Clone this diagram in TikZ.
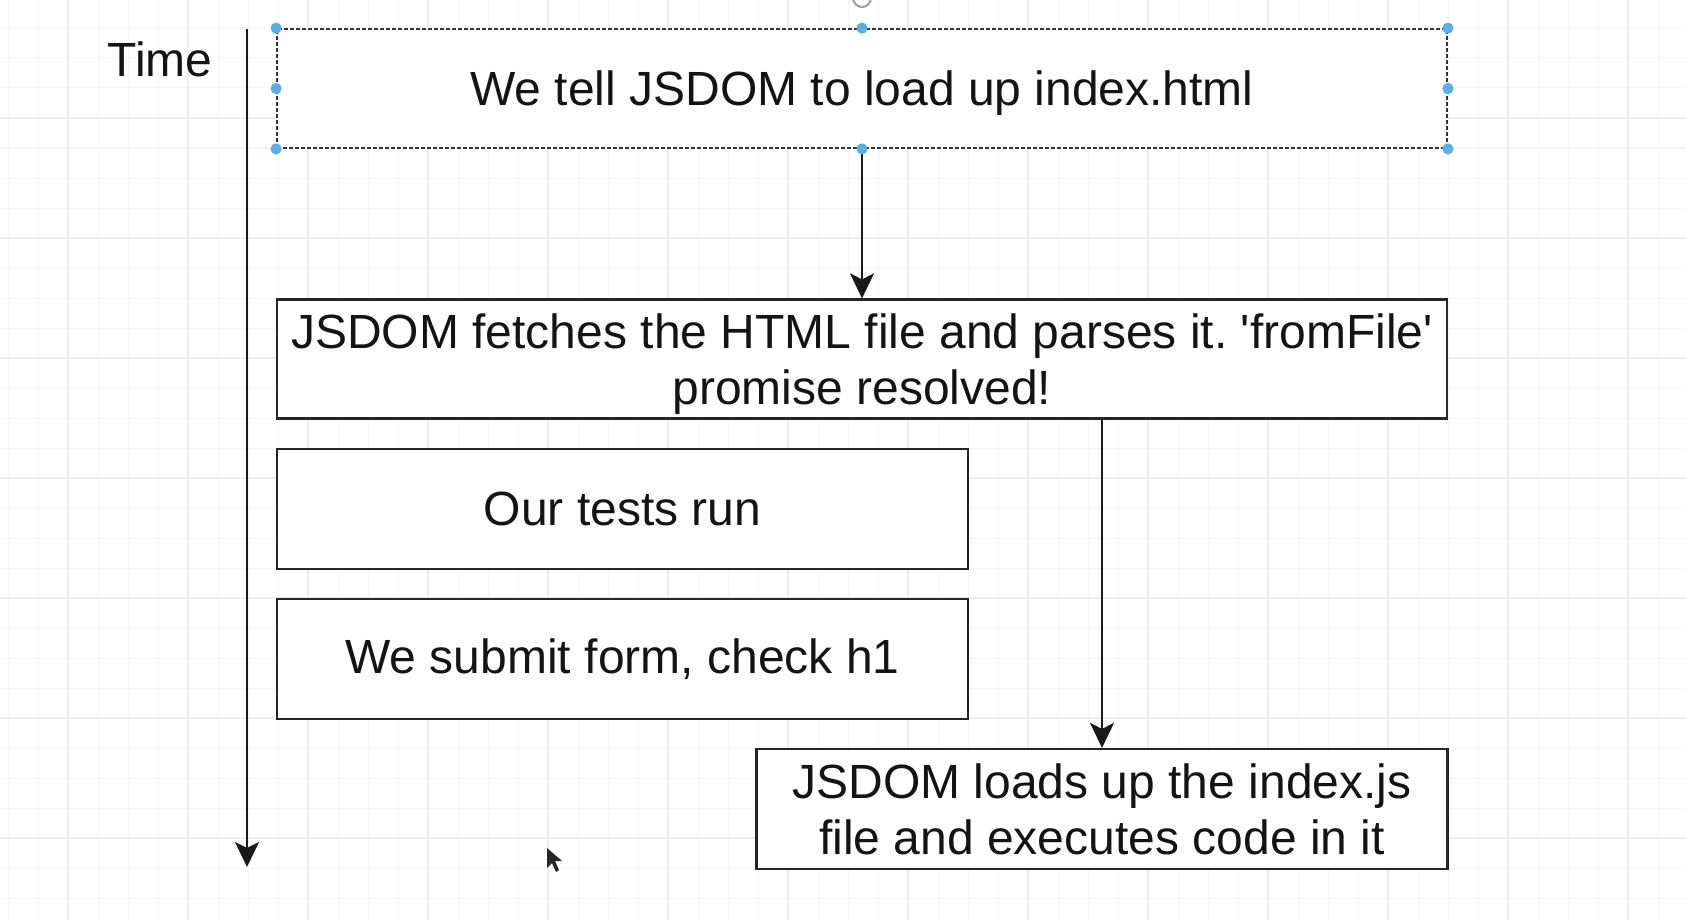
\documentclass[tikz,border=0pt]{standalone}
\usepackage{fontspec}
\setmainfont{Liberation Sans}
\usepackage{tikz}
\usetikzlibrary{positioning,arrows.meta,calc}

\definecolor{handleblue}{HTML}{5AAEE6}
\frenchspacing

\begin{document}
\begin{tikzpicture}[
    x=0.5pt, y=-0.5pt,
    font=\fontsize{24}{28}\selectfont,
    flow/.style={-{Stealth[length=12.5pt, width=12pt, inset=3pt]}, black!90, line width=1pt},
    stepbox/.style={draw=black!85, fill=white, line width=1.1pt, align=center,
                    inner sep=0pt, text=black!92},
    wide/.style={stepbox, minimum width=585pt, minimum height=59.5pt, text depth=0pt},
    half/.style={stepbox, minimum width=345.5pt, minimum height=60pt},
    minorgrid/.style={black!4, line width=0.5pt},
    majorgrid/.style={black!7, line width=0.6pt},
    handle/.style={fill=handleblue},
  ]
  \useasboundingbox (0,0) rectangle (1686,920);
  \clip (0,0) rectangle (1686,920);

  % editor grid
  \fill[white] (0,0) rectangle (1686,920);
  \foreach \gx in {8,38,...,1688} \draw[minorgrid] (\gx,0) -- (\gx,920);
  \foreach \gy in {28,58,...,918} \draw[minorgrid] (0,\gy) -- (1686,\gy);
  \foreach \gx in {68,188,...,1628} \draw[majorgrid] (\gx,0) -- (\gx,920);
  \foreach \gy in {118,238,...,838} \draw[majorgrid] (0,\gy) -- (1686,\gy);

  % time axis
  \coordinate (t0) at (247,29);
  \coordinate (t1) at (247,867);
  \draw[flow] (t0) -- (t1);
  \node[text=black!92] (time) at (160,59) {Time};

  % steps
  \node[wide, draw=black!80, dash pattern=on 2pt off 1pt, line width=0.9pt]
    (load) at (862,88.5) {We tell JSDOM to load up index.html};
  \node[wide] (fetch) at (862,359)
    {JSDOM fetches the HTML file and parses it. \textquotesingle fromFile\textquotesingle\\promise resolved!};
  \node[half] (tests) at (622.5,509) {Our tests run};
  \node[half] (submit) at (622.5,659) {We submit form, check h1};
  \node[half] (jsload) at (1102,809)
    {JSDOM loads up the index.js\\file and executes code in it};

  % connectors
  \draw[flow] (load.south) -- (fetch.north);
  \draw[flow] (jsload.north |- fetch.south) -- (jsload.north);

  % selection handles
  \foreach \a in {north west,north,north east,east,south east,south,south west,west}
    \fill[handle] (load.\a) circle (2.8pt);
  \draw[gray!75, line width=1pt] (862,-2) circle (4.5pt);

  % mouse pointer
  \fill[black!85] (547,848) -- (547,868) -- (552,863) -- (556,872) -- (559,870)
    -- (555,861) -- (562,861) -- cycle;
\end{tikzpicture}
\end{document}
